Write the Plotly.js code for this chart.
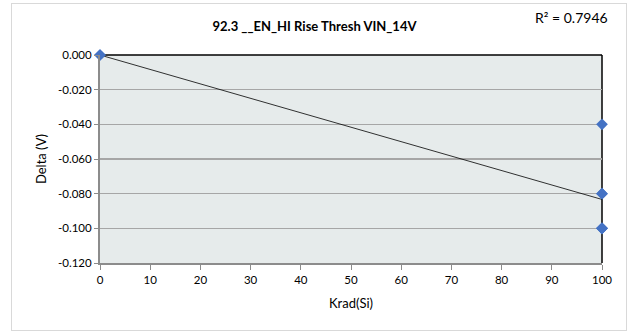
<!DOCTYPE html>
<html>
<head>
<meta charset="utf-8">
<script src="https://cdn.plot.ly/plotly-3.0.1.min.js"></script>
<style>
html,body{margin:0;padding:0;background:#fff;}
#wrap{position:relative;width:629px;height:333px;}
#chart{position:absolute;left:0;top:0;width:629px;height:333px;}
#frame{position:absolute;left:11px;top:3px;width:614px;height:326px;border:1px solid #D9D9D9;pointer-events:none;}
</style>
</head>
<body>
<div id="wrap"><div id="chart"></div><div id="frame"></div></div>
<script>
// Data (overlapping points included)
const kradValues = [0, 0, 100, 100, 100, 100, 100, 100];
const deltaValues = [0, 0, -0.04, -0.08, -0.08, -0.1, -0.1, -0.1];
const xTickVals = [0, 10, 20, 30, 40, 50, 60, 70, 80, 90, 100];
const yTickVals = [0, -0.02, -0.04, -0.06, -0.08, -0.1, -0.12];
const yTickText = ["0.000", "-0.020", "-0.040", "-0.060", "-0.080", "-0.100", "-0.120"];
const titleText = "92.3 __EN_HI Rise Thresh VIN_14V";
const r2Text = "R\u00B2 = 0.7946";

// least-squares linear trendline
const n = kradValues.length;
const mx = kradValues.reduce((a,b)=>a+b,0)/n;
const my = deltaValues.reduce((a,b)=>a+b,0)/n;
let sxy = 0, sxx = 0;
for (let i=0;i<n;i++){ sxy += (kradValues[i]-mx)*(deltaValues[i]-my); sxx += (kradValues[i]-mx)**2; }
const slope = sxy/sxx, intercept = my - slope*mx;
const trendX = [0, 100];
const trendY = trendX.map(x => intercept + slope*x);

const font = "Lato, 'Open Sans', sans-serif";

const traces = [
  {x: trendX, y: trendY, mode: 'lines', line: {color: '#000', width: 0.8}, hoverinfo: 'skip', showlegend: false, cliponaxis: false},
  {x: kradValues, y: deltaValues, mode: 'markers', type: 'scatter',
   marker: {symbol: 'diamond', size: 9, color: '#4472C4', line: {width: 0}},
   showlegend: false, cliponaxis: false}
];

const layout = {
  width: 629, height: 333,
  margin: {l: 100, r: 27, t: 55, b: 70},
  paper_bgcolor: 'rgba(0,0,0,0)',
  plot_bgcolor: '#E6EBEB',
  font: {family: font, size: 11, color: '#000'},
  showlegend: false,
  title: {text: '<b>' + titleText + '</b>', font: {family: font, size: 13, color: '#000'},
          x: 0.5, xref: 'container', xanchor: 'center', y: 0.922, yref: 'container', yanchor: 'middle'},
  xaxis: {
    range: [0, 100], tickvals: xTickVals, showgrid: false, zeroline: false,
    showline: true, linecolor: '#8C8C8C', linewidth: 2,
    ticks: 'outside', ticklen: 5, tickcolor: '#8C8C8C', tickwidth: 1,
    tickfont: {family: font, size: 11.5}, fixedrange: true,
    title: {text: 'Krad(Si)', font: {family: font, size: 13}, standoff: 14}
  },
  yaxis: {
    range: [-0.12, 0], tickvals: yTickVals, ticktext: yTickText,
    showgrid: true, gridcolor: '#A6A6A6', gridwidth: 1.5, zeroline: false,
    showline: true, linecolor: '#8C8C8C', linewidth: 2,
    ticks: 'outside', ticklen: 4, tickcolor: '#8C8C8C', tickwidth: 1,
    tickfont: {family: font, size: 11.5}, fixedrange: true,
    title: {text: 'Delta (V)', font: {family: font, size: 13}, standoff: 8}
  },
  shapes: [
    {type: 'line', xref: 'paper', yref: 'paper', x0: 0, x1: 1, y0: 1, y1: 1, line: {color: '#000', width: 1.5}, layer: 'below'},
    {type: 'line', xref: 'paper', yref: 'paper', x0: 1, x1: 1, y0: 0, y1: 1, line: {color: '#000', width: 1.5}, layer: 'below'}
  ],
  annotations: [
    {text: r2Text, xref: 'paper', yref: 'paper', x: 1.015, y: 1.18, xanchor: 'right', yanchor: 'middle',
     showarrow: false, font: {family: font, size: 14, color: '#000'}}
  ]
};

Plotly.newPlot('chart', traces, layout, {displayModeBar: false, staticPlot: true});
</script>
</body>
</html>
